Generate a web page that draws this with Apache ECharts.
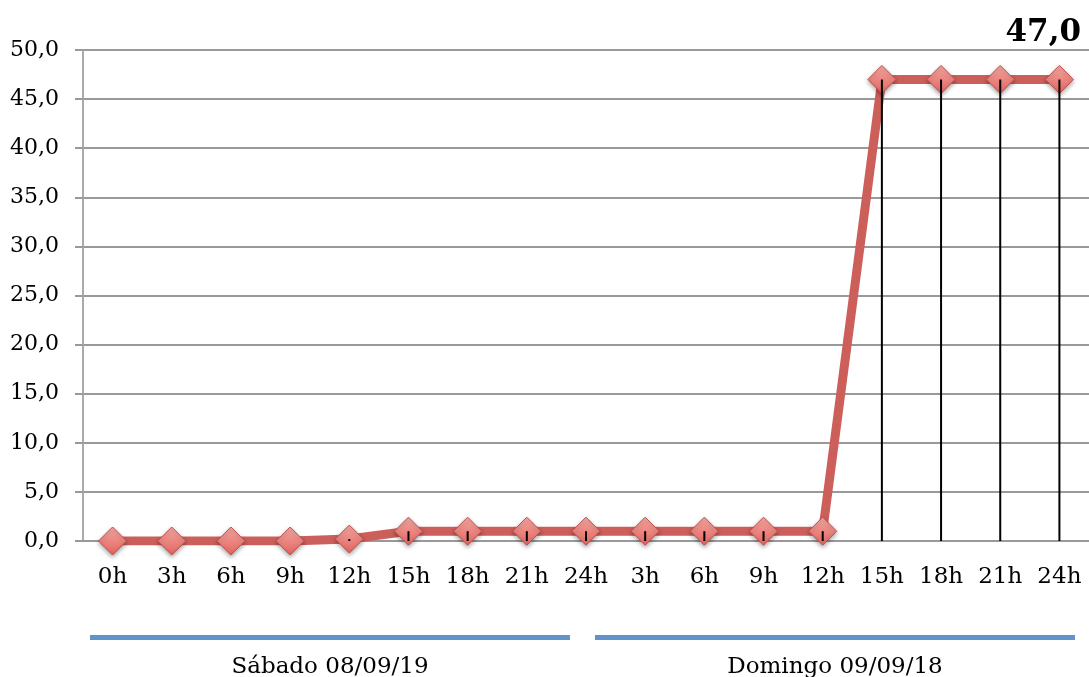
<!DOCTYPE html>
<html>
<head>
<meta charset="utf-8">
<script src="https://cdn.jsdelivr.net/npm/echarts@6/dist/echarts.min.js"></script>
<style>
  html, body { margin: 0; padding: 0; background: #fff; }
  #chart { width: 1089px; height: 677px; }
</style>
</head>
<body>
<div id="chart"></div>
<script>
// horas (dois dias seguidos)
const hours = ["0h", "3h", "6h", "9h", "12h", "15h", "18h", "21h", "24h",
               "3h", "6h", "9h", "12h", "15h", "18h", "21h", "24h"];
const values = [0, 0, 0, 0, 0.2, 1, 1, 1, 1, 1, 1, 1, 1, 47, 47, 47, 47];
const dayLabels = ["Sábado 08/09/19", "Domingo 09/09/18"];
const lastValue = "47,0";

const serif = "DejaVu Serif";
const fmt = v => v.toFixed(1).replace(".", ",");

let chart = echarts.init(document.getElementById("chart"));
chart.setOption({
  animation: false,
  backgroundColor: "#fff",
  title: {
    text: lastValue,
    right: 3,
    top: 12,
    textStyle: { fontFamily: serif, fontSize: 31, fontWeight: "bold", color: "#000" }
  },
  grid: { left: 83, right: -3, top: 50, bottom: 136 },
  xAxis: {
    type: "category",
    data: hours,
    boundaryGap: true,
    axisLine: { lineStyle: { color: "#999", width: 2 } },
    axisTick: { show: false },
    axisLabel: { fontFamily: serif, fontSize: 23, color: "#000", margin: 25, interval: 0 }
  },
  yAxis: {
    type: "value",
    min: 0,
    max: 50,
    interval: 5,
    axisLine: { show: true, lineStyle: { color: "#aaa", width: 2 } },
    axisTick: { show: true, length: 8, lineStyle: { color: "#999", width: 2 } },
    splitLine: { lineStyle: { color: "#999", width: 2 } },
    axisLabel: { fontFamily: serif, fontSize: 22, color: "#000", margin: 24, formatter: fmt }
  },
  series: [
    {
      type: "line",
      data: values,
      z: 2,
      symbol: "diamond",
      symbolSize: 28,
      lineStyle: { color: "#cd5f5a", width: 9 },
      itemStyle: {
        color: new echarts.graphic.LinearGradient(0, 0, 0, 1, [
          { offset: 0, color: "#f5a8a3" },
          { offset: 1, color: "#e2645e" }
        ]),
        borderColor: "#c0504d",
        borderWidth: 1,
        shadowColor: "rgba(0,0,0,0.35)",
        shadowBlur: 4,
        shadowOffsetY: 2
      }
    },
    {
      // linhas de queda
      type: "bar",
      data: values,
      z: 3,
      barWidth: 2,
      itemStyle: { color: "#000" }
    }
  ],
  graphic: [
    { type: "rect", shape: { x: 90, y: 635, width: 480, height: 5 }, style: { fill: "#5f93c9" } },
    { type: "rect", shape: { x: 595, y: 635, width: 480, height: 5 }, style: { fill: "#5f93c9" } },
    {
      type: "text", x: 330, y: 667,
      style: { text: dayLabels[0], font: "23px 'DejaVu Serif'", fill: "#000", align: "center", verticalAlign: "middle" }
    },
    {
      type: "text", x: 835, y: 667,
      style: { text: dayLabels[1], font: "23px 'DejaVu Serif'", fill: "#000", align: "center", verticalAlign: "middle" }
    }
  ]
});
</script>
</body>
</html>
